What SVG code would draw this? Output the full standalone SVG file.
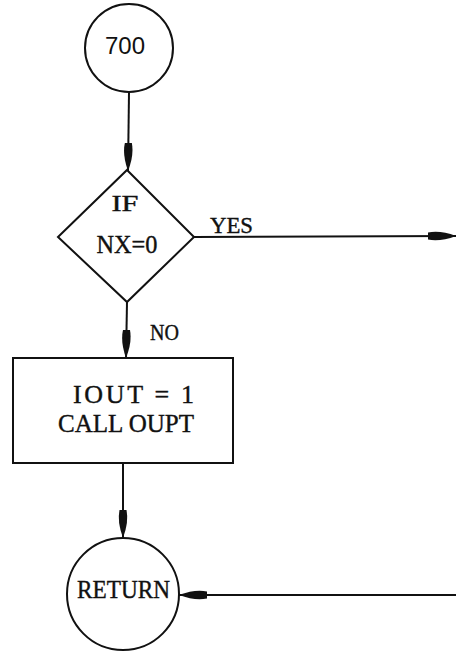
<svg xmlns="http://www.w3.org/2000/svg" width="456" height="652" viewBox="0 0 456 652">
<style>
.shape{fill:#fff;stroke:#111;stroke-width:2}
.edge{fill:none;stroke:#111;stroke-width:2}
.serif{font-family:"Liberation Serif","DejaVu Serif",serif;fill:#111;stroke:#111;stroke-width:0.4}
.sans{font-family:"Liberation Sans",Arial,sans-serif;fill:#111}
</style>
<defs>
<marker id="arr" viewBox="0 0 28 12" refX="28" refY="6" markerWidth="28" markerHeight="12" markerUnits="userSpaceOnUse" orient="auto">
<path d="M0,2.5 Q12,0 28,6 Q12,12 0,9.5 z" fill="#111"/>
</marker>
</defs>
<rect width="456" height="652" fill="#fff"/>
<g id="connectors">
<path class="edge" d="M129,92 L128,171" marker-end="url(#arr)"/>
<path class="edge" d="M194,237 L456,236" marker-end="url(#arr)"/>
<path class="edge" d="M127,302 L126,358" marker-end="url(#arr)"/>
<path class="edge" d="M123,463 L123,538" marker-end="url(#arr)"/>
<path class="edge" d="M456,595 L179,595" marker-end="url(#arr)"/>
</g>
<g id="n700">
<circle class="shape" cx="129" cy="48" r="44"/>
<text class="sans" x="125" y="54" font-size="24" text-anchor="middle">700</text>
</g>
<g id="decision">
<polygon class="shape" points="127,170 194,237 127,302 58,237"/>
<text class="serif" x="125" y="211" font-size="23" text-anchor="middle" textLength="27" lengthAdjust="spacingAndGlyphs">IF</text>
<text class="serif" x="127" y="253" font-size="25" text-anchor="middle" textLength="61" lengthAdjust="spacingAndGlyphs">NX=0</text>
</g>
<text class="serif" x="210" y="233" font-size="24" textLength="43" lengthAdjust="spacingAndGlyphs">YES</text>
<text class="serif" x="150" y="340" font-size="24" textLength="29" lengthAdjust="spacingAndGlyphs">NO</text>
<g id="process">
<rect class="shape" x="13" y="358" width="220" height="105"/>
<text class="serif" x="73" y="403" font-size="26" textLength="121">IOUT = 1</text>
<text class="serif" x="58" y="432" font-size="26" textLength="136" lengthAdjust="spacingAndGlyphs">CALL OUPT</text>
</g>
<g id="return">
<circle class="shape" cx="123" cy="594" r="56"/>
<text class="serif" x="77" y="598" font-size="25" textLength="93" lengthAdjust="spacingAndGlyphs">RETURN</text>
</g>
</svg>
